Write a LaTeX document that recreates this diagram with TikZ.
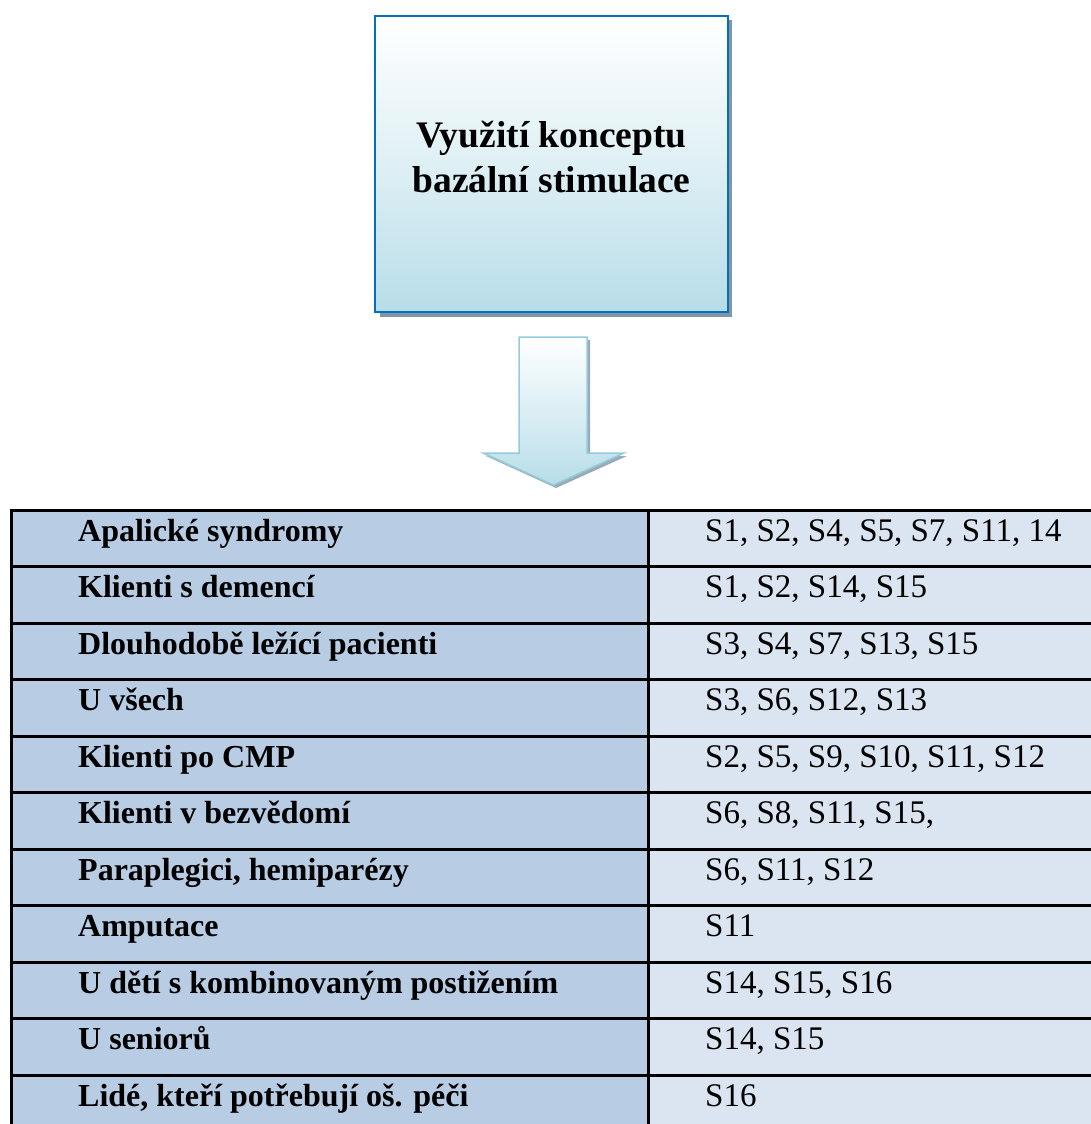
\documentclass[tikz,border=0pt]{standalone}
\usepackage{fontspec}
\setmainfont{Liberation Serif}
\usetikzlibrary{calc}
\definecolor{titleblue}{RGB}{0,112,192}
\definecolor{lightaqua}{RGB}{183,221,232}
\definecolor{arrowline}{RGB}{147,205,221}
\definecolor{shadowc}{RGB}{128,150,165}
\definecolor{colA}{RGB}{184,204,228}
\definecolor{colB}{RGB}{219,229,241}
\tikzset{
  titlebox/.style={draw=titleblue, line width=2.8pt, top color=white, bottom color=lightaqua,
    middle color=white!55!lightaqua, minimum width=353pt, minimum height=296pt, inner sep=0pt},
  titletext/.style={align=center, inner sep=0pt, font=\fontsize{37.5}{45}\selectfont\bfseries},
  lefttext/.style={anchor=base west, inner sep=0pt, font=\fontsize{32}{38}\selectfont\bfseries},
  righttext/.style={anchor=base west, inner sep=0pt, font=\fontsize{33}{38}\selectfont},
  gridline/.style={black, line width=3pt}
}
\begin{document}
\begin{tikzpicture}[x=1pt,y=-1pt]
\useasboundingbox (0,0) rectangle (1091,1124);
% title box with shadow
\fill[shadowc] (380,20) rectangle (732,317);
\node[titlebox] (title) at (551.5,164) {};
\node[titletext] (titletext) at (551.5,157.5) {Využití konceptu\\bazální stimulace};
% arrow with shadow
\fill[shadowc!80!white] (522,340) -- (590,340) -- (590,456) -- (627,456) -- (556,488) -- (486,456) -- (522,456) -- cycle;
\path[draw=arrowline, line width=1.5pt, top color=white, bottom color=lightaqua]
  (519,337) coordinate (atop) -- (587,337) -- (587,453) -- (624,453) -- (553.5,485) coordinate (atip) -- (483,453) -- (519,453) -- cycle;
% table
\fill[colA] (11,510) rectangle (648,1124);
\fill[colB] (648,510) rectangle (1095,1124);
\foreach \k in {0,...,10} {
  \draw[gridline] (9.5,{510+56.5*\k}) -- (1095,{510+56.5*\k});
}
\draw[gridline] (11,508.5) -- (11,1130);
\draw[gridline] (648,508.5) -- (648,1130);
\foreach \i/\a/\b in {
  1/{Apalické syndromy}/{S1, S2, S4, S5, S7, S11, 14},
  2/{Klienti s demencí}/{S1, S2, S14, S15},
  3/{Dlouhodobě ležící pacienti}/{S3, S4, S7, S13, S15},
  4/{U všech}/{S3, S6, S12, S13},
  5/{Klienti po CMP}/{S2, S5, S9, S10, S11, S12},
  6/{Klienti v bezvědomí}/{S6, S8, S11, S15,},
  7/{Paraplegici, hemiparézy}/{S6, S11, S12},
  8/{Amputace}/{S11},
  9/{U dětí s kombinovaným postižením}/{S14, S15, S16},
  10/{U seniorů}/{S14, S15},
  11/{Lidé, kteří potřebují oš. péči}/{S16}} {
  \node[lefttext] (l\i) at (78,{510+56.5*(\i-1)+31}) {\a};
  \node[righttext] (r\i) at (705,{510+56.5*(\i-1)+31}) {\b};
}
\end{tikzpicture}
\end{document}
